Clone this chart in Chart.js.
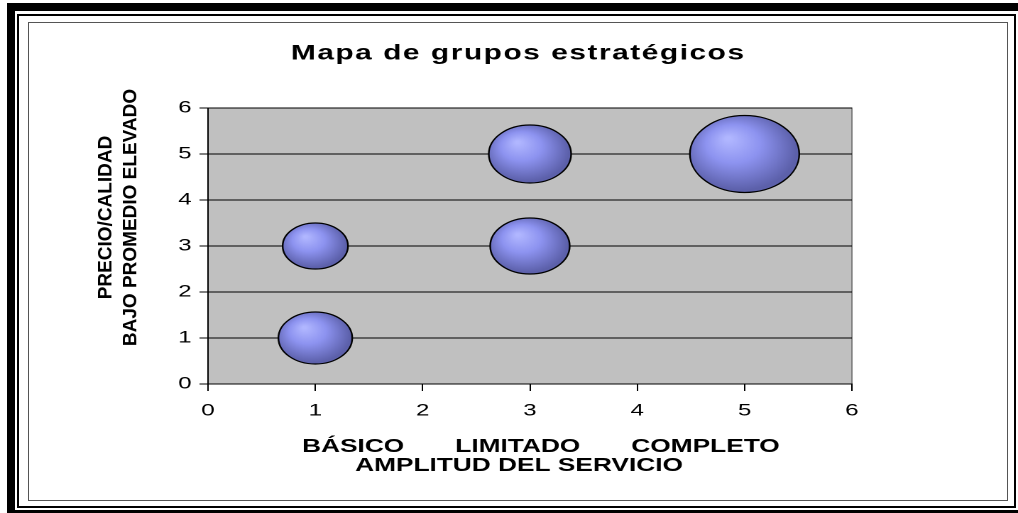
<!DOCTYPE html>
<html>
<head>
<meta charset="utf-8">
<script src="https://cdn.jsdelivr.net/npm/chart.js@4"></script>
<style>
  html, body { margin: 0; padding: 0; background: #fff; overflow: hidden; }
  .marco { position: absolute; box-sizing: border-box; }
  #grueso { left: 7px; top: 3px; width: 1100px; height: 515px; border: 8px solid #000; }
  #fino { left: 17px; top: 14px; width: 999px; height: 494px; border: 2px solid #000; }
  #interior { left: 28px; top: 22px; width: 980px; height: 479px; border: 1px solid #555; }
  #grafico { position: absolute; left: 0; top: 0; width: 1018px; height: 513px; }
</style>
</head>
<body>
<div class="marco" id="grueso"></div>
<div class="marco" id="fino"></div>
<div class="marco" id="interior"></div>
<canvas id="grafico" width="717" height="513" style="width:1018px;height:513px"></canvas>
<script>
// Datos del mapa
const amplitud = [1, 1, 3, 3, 5];          // eje X
const precio = [1, 3, 3, 5, 5];            // eje Y
const tamano = [26, 23, 28, 29, 38.5];     // radio de la burbuja
const nivelesServicio = ["BÁSICO", "LIMITADO", "COMPLETO"];
const tituloY = ["PRECIO/CALIDAD", "BAJO PROMEDIO ELEVADO"];
const titulo = "Mapa de grupos estratégicos";

// el original está estirado en horizontal
const ESTIRA = 1018 / 717;
const fuente = "'Liberation Sans', Arial, sans-serif";
Chart.defaults.font.family = fuente;
Chart.defaults.color = "#000";

const puntos = amplitud.map((x, i) => ({ x: x, y: precio[i], r: tamano[i] }));

// fondo gris del área de trazado
const fondoArea = {
  id: "fondoArea",
  beforeDraw(chart) {
    const { ctx, chartArea: a } = chart;
    ctx.save();
    ctx.fillStyle = "#c0c0c0";
    ctx.fillRect(a.left, a.top, a.right - a.left, a.bottom - a.top);
    ctx.strokeStyle = "#808080";
    ctx.lineWidth = 1;
    ctx.strokeRect(a.left, a.top, a.right - a.left, a.bottom - a.top);
    ctx.restore();
  },
};

// título principal (letras algo separadas) y título del eje Y (girado, sin estirar)
const textos = {
  id: "textos",
  afterDraw(chart) {
    const ctx = chart.ctx;
    ctx.save();
    ctx.fillStyle = "#000";
    ctx.textAlign = "center";
    ctx.textBaseline = "middle";

    ctx.font = "bold 21px " + fuente;
    ctx.letterSpacing = "1.1px";
    ctx.fillText(titulo, 365, 53.6);
    ctx.letterSpacing = "0px";

    const xs = [75, 92.5];
    ctx.font = "bold 19px " + fuente;
    tituloY.forEach((linea, i) => {
      ctx.save();
      ctx.translate(xs[i], 217.5);
      ctx.scale(1 / ESTIRA, 1);
      ctx.rotate(-Math.PI / 2);
      ctx.fillText(linea, 0, 0);
      ctx.restore();
    });
    ctx.restore();
  },
};

function degradado(c) {
  const chart = c.chart;
  const p = c.raw;
  if (!p || !chart.scales.x) return "#8c92ee";
  const x = chart.scales.x.getPixelForValue(p.x);
  const y = chart.scales.y.getPixelForValue(p.y);
  const r = p.r;
  if (!Number.isFinite(x) || !Number.isFinite(y)) return "#8c92ee";
  const g = chart.ctx.createRadialGradient(x - r * 0.3, y - r * 0.4, r * 0.05, x - r * 0.1, y - r * 0.1, r * 1.05);
  g.addColorStop(0, "#b0b6ff");
  g.addColorStop(0.45, "#8d93f0");
  g.addColorStop(1, "#5c60aa");
  return g;
}

new Chart(document.getElementById("grafico"), {
  type: "bubble",
  data: {
    datasets: [
      {
        label: "Grupos",
        data: puntos,
        backgroundColor: degradado,
        borderColor: "#000",
        borderWidth: 1.2,
      },
    ],
  },
  options: {
    responsive: false,
    devicePixelRatio: 2,
    animation: false,
    events: [],
    layout: { padding: { top: 108, left: 124, right: 117, bottom: 37.5 } },
    plugins: {
      legend: { display: false },
      tooltip: { enabled: false },
      title: { display: false },
    },
    scales: {
      x: {
        type: "linear",
        min: 0,
        max: 6,
        ticks: { stepSize: 1, font: { size: 17 }, padding: 9.5, color: "#000" },
        grid: { drawOnChartArea: false, drawTicks: true, tickLength: 7, color: "#000" },
        border: { color: "#000", width: 1 },
        title: {
          display: true,
          text: ["   " + nivelesServicio.join("       "), "AMPLITUD DEL SERVICIO   "],
          font: { size: 18.5, weight: "bold", lineHeight: 1.03 },
          color: "#000",
          padding: { top: 0, bottom: 0 },
        },
        afterFit(s) { s.height = 91.5; },
      },
      y: {
        min: 0,
        max: 6,
        ticks: { stepSize: 1, font: { size: 17 }, padding: 5.5, color: "#000" },
        grid: { color: "#000", lineWidth: 1, drawTicks: true, tickLength: 6 },
        border: { color: "#000", width: 1 },
        afterFit(s) { s.width = 22.5; },
      },
    },
  },
  plugins: [fondoArea, textos],
});
</script>
</body>
</html>
